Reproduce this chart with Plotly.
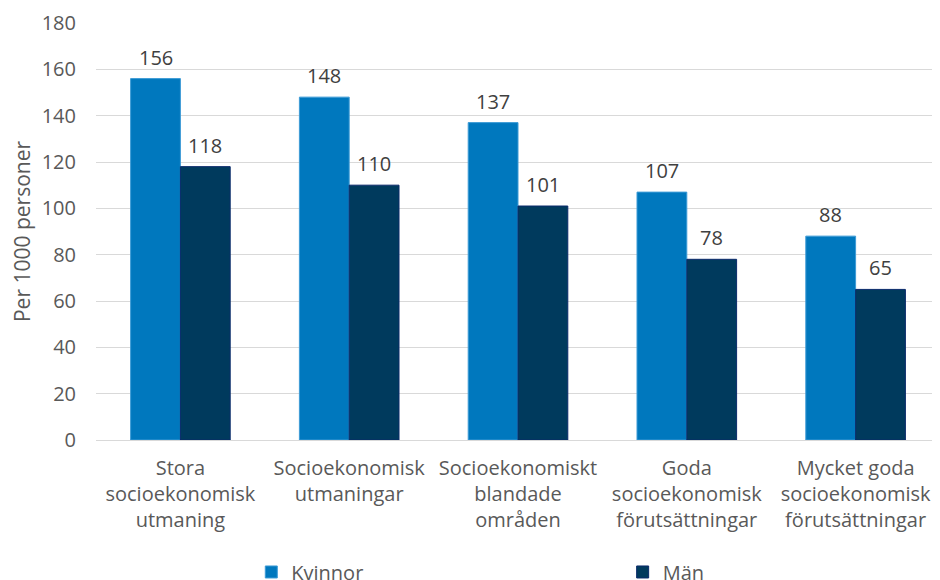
import plotly.graph_objects as go

categories = [
    "Stora<br>socioekonomisk<br>utmaning",
    "Socioekonomisk<br>utmaningar",
    "Socioekonomiskt<br>blandade<br>områden",
    "Goda<br>socioekonomisk<br>förutsättningar",
    "Mycket goda<br>socioekonomisk<br>förutsättningar",
]
kvinnor = [156, 148, 137, 107, 88]
man = [118, 110, 101, 78, 65]
y_ticks = [0, 20, 40, 60, 80, 100, 120, 140, 160, 180]

FONT = "Open Sans"
BARGAP = 0.41
half = (1 - BARGAP) / 4  # offset of each bar centre from category centre

fig = go.Figure()
fig.add_trace(go.Bar(
    x=categories, y=kvinnor, name="Kvinnor",
    marker=dict(color="#0078BE", line=dict(color="#3D9BD6", width=1)),
    legend="legend", showlegend=True,
))
fig.add_trace(go.Bar(
    x=categories, y=man, name="Män",
    marker=dict(color="#003A5D", line=dict(color="#0A2A6B", width=1)),
    legend="legend2", showlegend=True,
))

annotations = []
for i, (k, m) in enumerate(zip(kvinnor, man)):
    for val, off in ((k, -half), (m, half)):
        annotations.append(dict(
            x=i + off, y=val, xref="x", yref="y", text=str(val), showarrow=False,
            yanchor="bottom", yshift=6,
            font=dict(size=20, color="#404040", family=FONT),
        ))

fig.update_layout(
    width=940, height=580,
    margin=dict(l=88, r=8, t=15, b=148, autoexpand=False),
    paper_bgcolor="white", plot_bgcolor="white",
    font=dict(family=FONT, size=20, color="#595959"),
    barmode="group", bargap=BARGAP, bargroupgap=0,
    annotations=annotations,
    legend=dict(orientation="h", x=0.184, xanchor="left", y=-0.3165, yanchor="middle",
                font=dict(size=20, color="#595959", family=FONT), bgcolor="rgba(0,0,0,0)"),
    legend2=dict(orientation="h", x=0.624, xanchor="left", y=-0.3165, yanchor="middle",
                 font=dict(size=20, color="#595959", family=FONT), bgcolor="rgba(0,0,0,0)"),
    yaxis=dict(
        range=[0, 180], tickvals=y_ticks, showgrid=True, gridcolor="#D9D9D9", gridwidth=1,
        zeroline=False, showline=False, ticks="", ticklabelstandoff=19, automargin=False,
        tickfont=dict(size=20, color="#595959"),
        title=dict(text="Per 1000 personer", font=dict(size=21, color="#595959"), standoff=19),
    ),
    xaxis=dict(
        showline=True, linecolor="#D9D9D9", linewidth=1, ticks="", automargin=False,
        tickfont=dict(size=20, color="#595959"), tickangle=0, ticklabelstandoff=10,
    ),
)
fig.write_html("out.html")
